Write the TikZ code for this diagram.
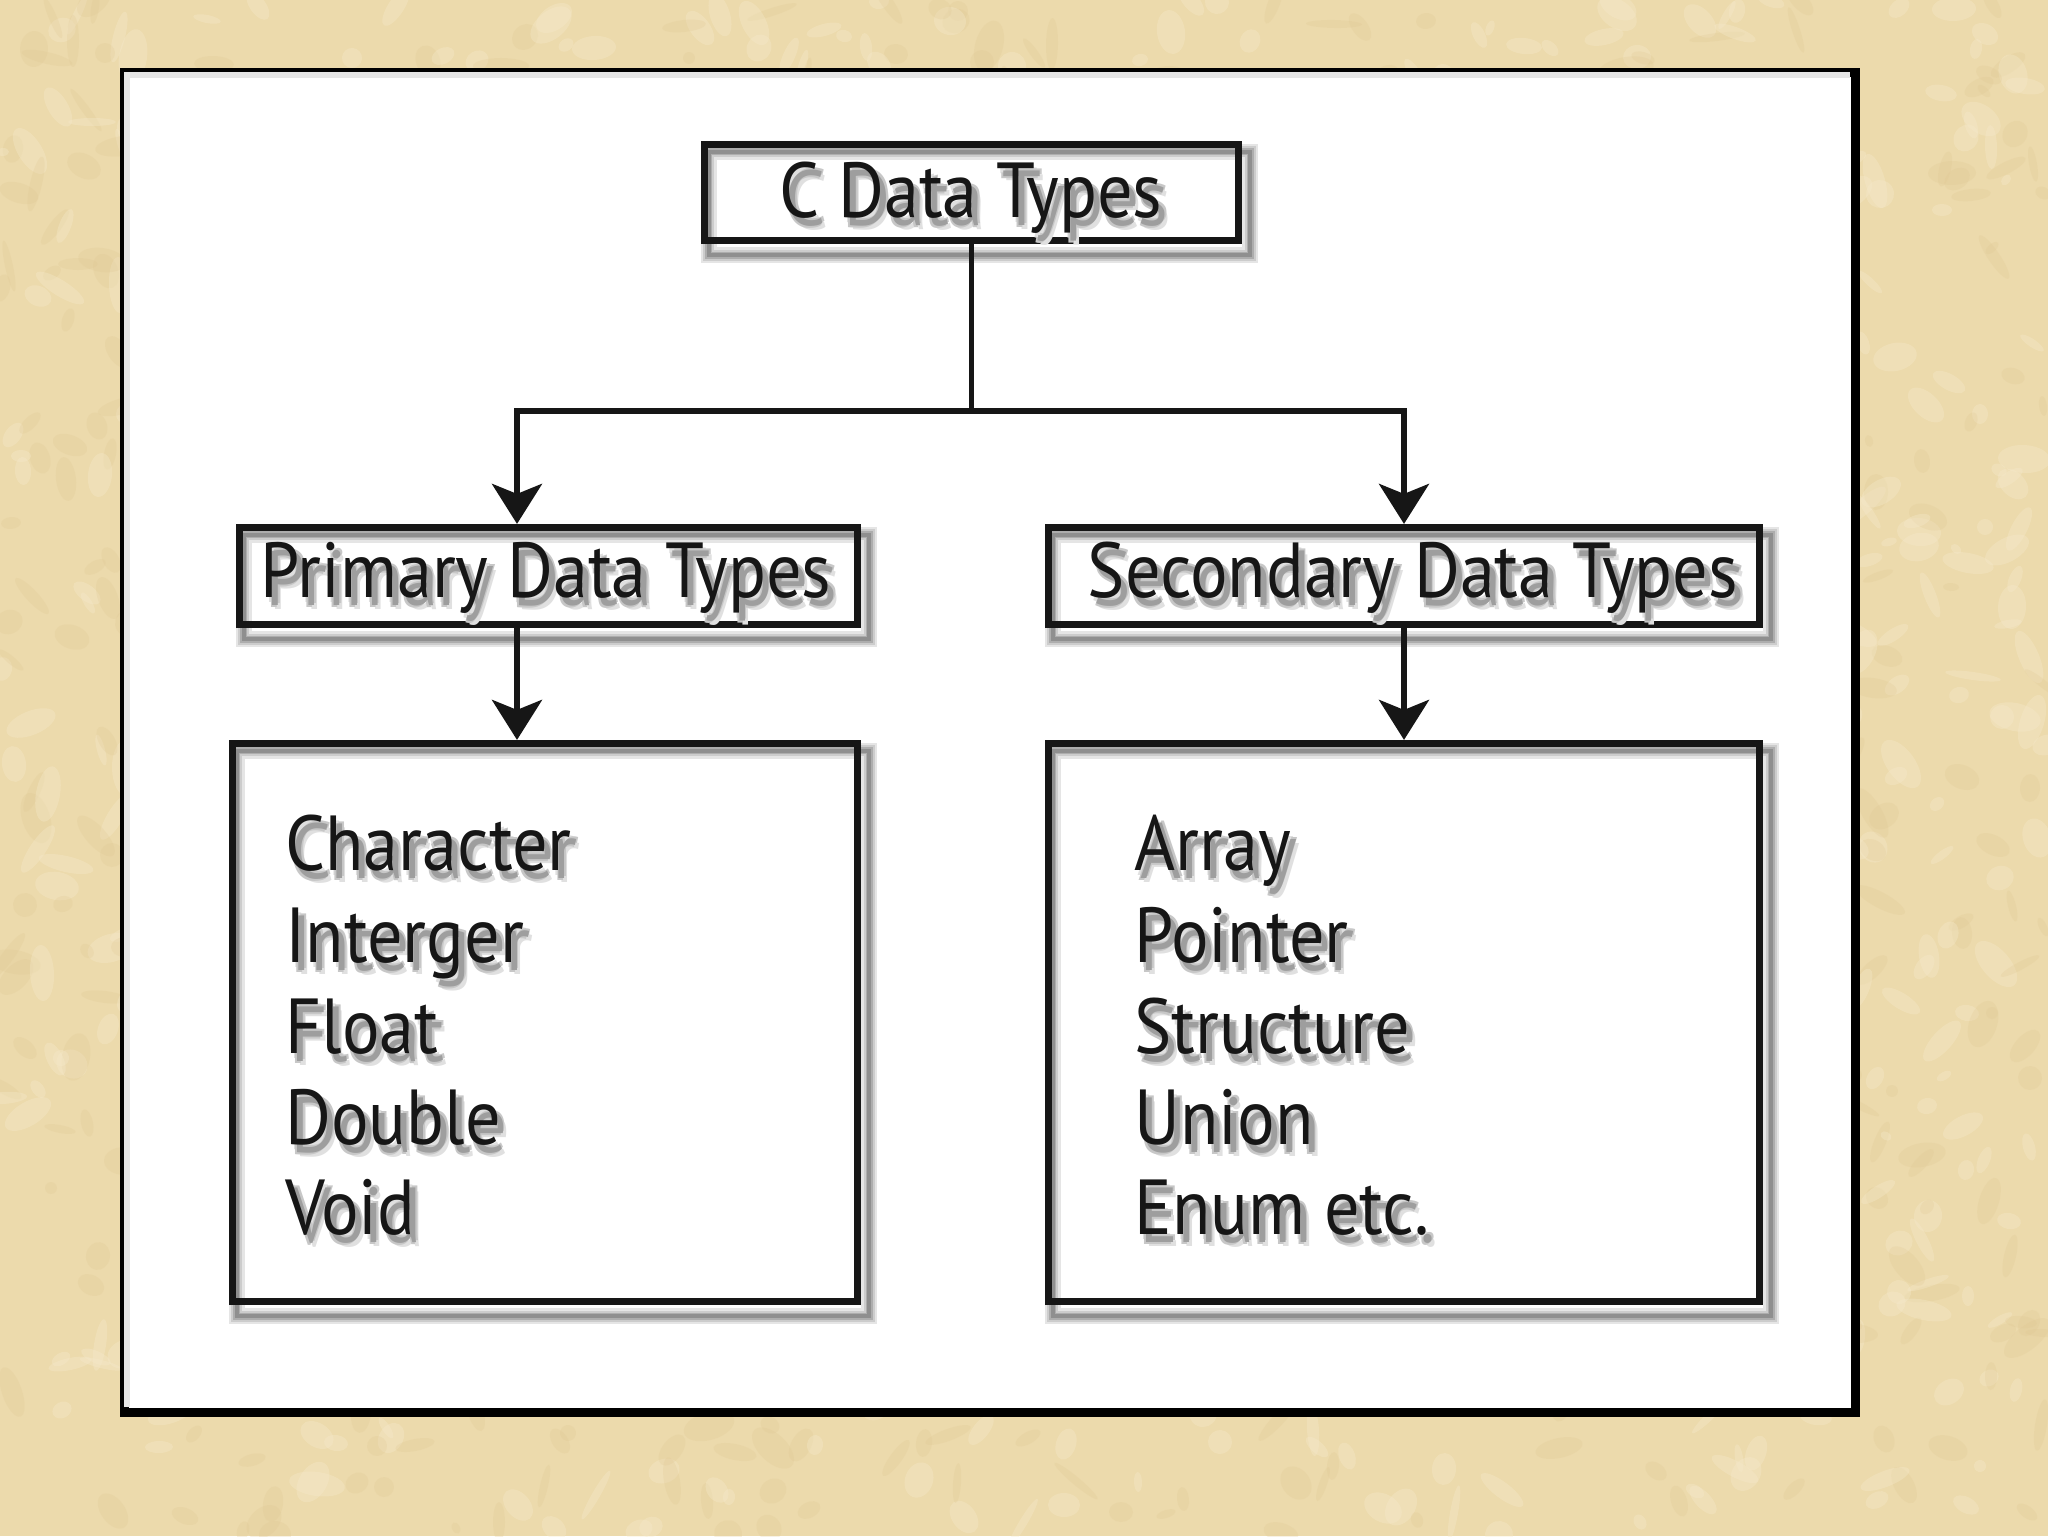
\documentclass[tikz,border=0pt]{standalone}
\usepackage{fontspec}
\setmainfont{PT Sans}[FakeStretch=0.9]
\usetikzlibrary{arrows.meta}
\pgfdeclarelayer{bg}
\pgfdeclarelayer{shade}
\pgfsetlayers{bg,shade,main}
\definecolor{paper}{RGB}{236,218,172}
\definecolor{paperlight}{RGB}{246,234,204}
\definecolor{paperdark}{RGB}{224,200,148}
\definecolor{ink}{RGB}{22,22,22}
\newcommand\shadowtext[1]{%
  \leavevmode
  \rlap{\kern4.5pt\raisebox{-6pt}{\color{black!12}#1}}%
  \rlap{\kern1.5pt\raisebox{-2.5pt}{\color{black!12}#1}}%
  \rlap{\kern3.8pt\raisebox{-3pt}{\color{black!22}#1}}%
  \rlap{\kern2.2pt\raisebox{-5pt}{\color{black!22}#1}}%
  \rlap{\kern3pt\raisebox{-4pt}{\color{black!38}#1}}%
  {\color{ink}#1}}
\tikzset{
  boxnode/.style={draw=ink, line width=3.6pt, inner sep=0pt, rectangle},
  label txt/.style={inner sep=0pt, font=\fontsize{39pt}{46pt}\selectfont},
  head txt/.style={label txt, anchor=base},
  item txt/.style={label txt, anchor=base west},
  conn/.style={draw=ink, line width=2.75pt},
  arr/.style={conn, -{Stealth[length=20pt,width=25pt,inset=5pt]}},
}
\begin{document}
\begin{tikzpicture}[x=0.5pt,y=-0.5pt]
\useasboundingbox (0,0) rectangle (2048,1536);
\begin{pgfonlayer}{bg}
  \fill[paper] (0,0) rectangle (2048,1536);
  \pgfmathsetseed{7}
  \foreach \i in {1,...,1600}{%
    \pgfmathsetmacro\xx{random(0,2048)}%
    \pgfmathsetmacro\yy{random(0,1536)}%
    \pgfmathsetmacro\ra{random(3,14)}%
    \pgfmathsetmacro\rb{random(2,7)}%
    \pgfmathsetmacro\ang{random(0,180)}%
    \ifodd\i
      \fill[paperlight, opacity=0.35, rotate around={\ang:(\xx,\yy)}] (\xx,\yy) ellipse ({\ra pt} and {\rb pt});
    \else
      \fill[paperdark, opacity=0.25, rotate around={\ang:(\xx,\yy)}] (\xx,\yy) ellipse ({\ra pt} and {\rb pt});
    \fi
  }
  \node[draw=black, fill=white, line width=4.5pt, inner sep=0pt,
        minimum width=865.5pt, minimum height=670pt] (frame) at (990,742.5) {};
  \draw[black!10, line width=3pt] ([shift={(7,-10)}]frame.south west) |- ([shift={(-10,7)}]frame.north east);
\end{pgfonlayer}

% boxes
\node[boxnode, minimum width=267pt, minimum height=48pt] (top) at (971.5,192.5) {};
\node[boxnode, minimum width=309pt, minimum height=48.5pt] (prim) at (548.5,576) {};
\node[boxnode, minimum width=355.5pt, minimum height=48.5pt] (sec) at (1404,576) {};
\node[boxnode, minimum width=312.5pt, minimum height=279pt] (plist) at (545,1022.5) {};
\node[boxnode, minimum width=355.5pt, minimum height=279pt] (slist) at (1404,1022.5) {};

% box shadows
\begin{pgfonlayer}{shade}
  \foreach \b in {top,prim,sec,plist,slist}{%
    \draw[black!10, line width=8pt] ([shift={(8,11)}]\b.north west) rectangle ([shift={(8,11)}]\b.south east);
    \draw[black!20, line width=5.5pt] ([shift={(8,11)}]\b.north west) rectangle ([shift={(8,11)}]\b.south east);
    \draw[black!32, line width=3.5pt] ([shift={(8,11)}]\b.north west) rectangle ([shift={(8,11)}]\b.south east);
    \draw[black!44, line width=1.8pt] ([shift={(8,11)}]\b.north west) rectangle ([shift={(8,11)}]\b.south east);
  }
\end{pgfonlayer}

% texts
\node[head txt] (ttop) at (971,217) {\shadowtext{C Data Types}};
\node[head txt] (tprim) at (546,597) {\shadowtext{Primary Data Types}};
\node[head txt] (tsec) at (1413,597) {\shadowtext{Secondary Data Types}};

\node[item txt] (c1) at (285,870) {\shadowtext{Character}};
\node[item txt] (c2) at (285,962) {\shadowtext{Interger}};
\node[item txt] (c3) at (285,1053) {\shadowtext{Float}};
\node[item txt] (c4) at (285,1144) {\shadowtext{Double}};
\node[item txt] (c5) at (285,1234) {\shadowtext{Void}};

\node[item txt] (s1) at (1134,870) {\shadowtext{Array}};
\node[item txt] (s2) at (1134,962) {\shadowtext{Pointer}};
\node[item txt] (s3) at (1134,1053) {\shadowtext{Structure}};
\node[item txt] (s4) at (1134,1144) {\shadowtext{Union}};
\node[item txt] (s5) at (1134,1234) {\shadowtext{Enum etc.}};

% connectors
\coordinate (jl) at (517,411);
\coordinate (jr) at (1404,411);
\draw[arr] (top.south) |- (jl) -- (jl |- prim.north);
\draw[arr] (top.south) |- (jr) -- (jr |- sec.north);
\draw[arr] (prim.south -| jl) -- (plist.north -| jl);
\draw[arr] (sec.south) -- (slist.north);
\end{tikzpicture}
\end{document}
